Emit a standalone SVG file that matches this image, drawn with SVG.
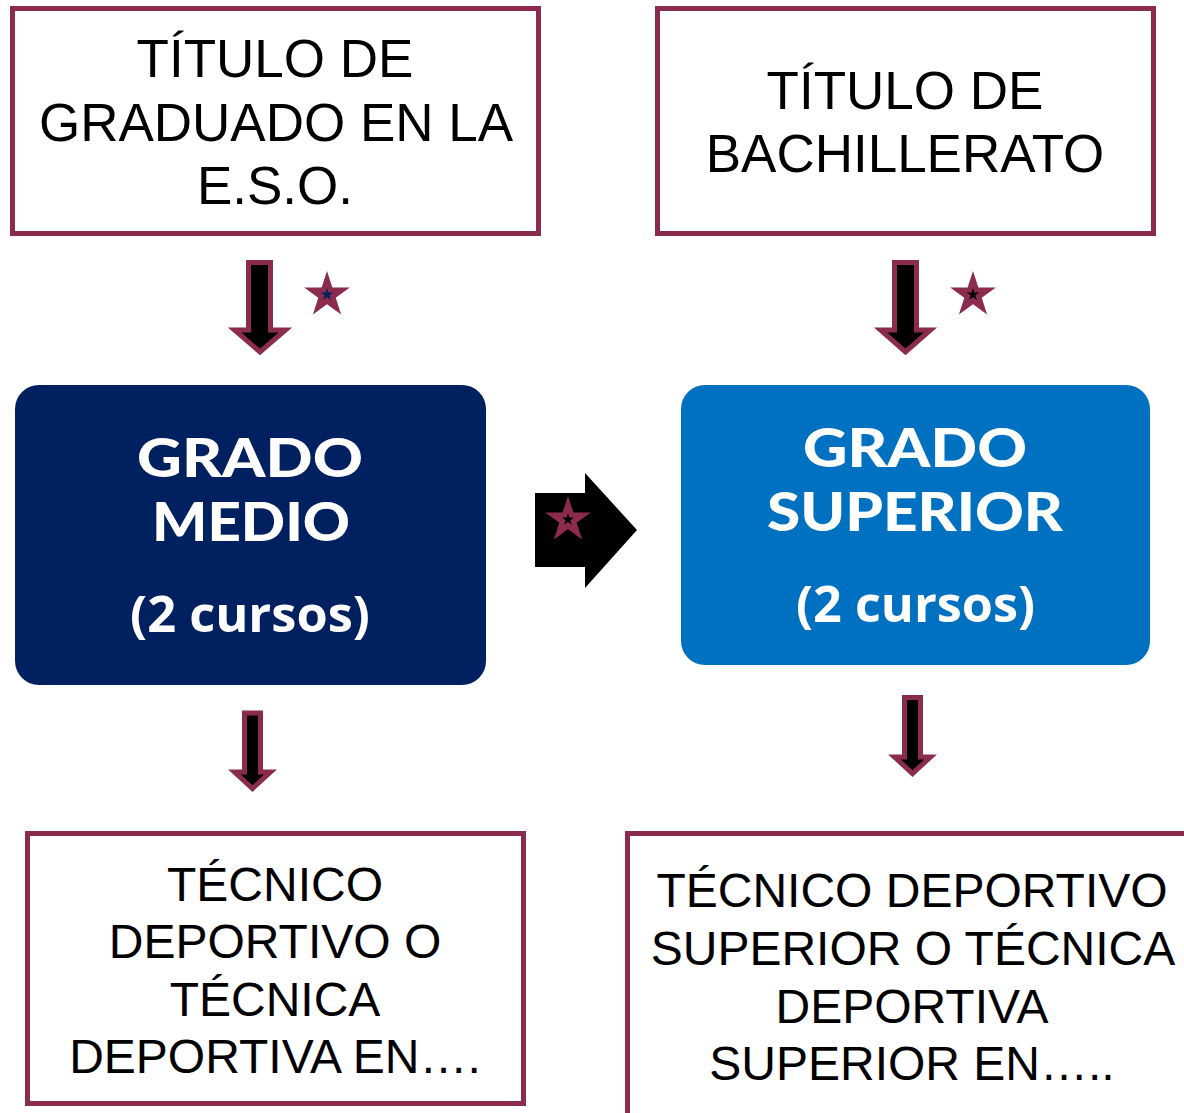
<svg xmlns="http://www.w3.org/2000/svg" xmlns:xlink="http://www.w3.org/1999/xlink" width="1184" height="1113" viewBox="0 0 1184 1113">
  <style>
    .box { fill: #ffffff; stroke: #8B2C4E; stroke-width: 5; }
    .txt { font-family: "Liberation Sans", Arial, sans-serif; fill: #000000; text-anchor: middle; }
    .big { font-family: Lato, "DejaVu Sans", sans-serif; font-weight: 900; fill: #ffffff; text-anchor: middle; font-size: 53px; }
    .sub { font-family: "Open Sans", "DejaVu Sans", sans-serif; font-weight: 700; fill: #ffffff; text-anchor: middle; font-size: 50px; }
    .darr { fill: #000000; stroke: #8B2C4E; stroke-width: 5; stroke-linejoin: miter; }
  </style>
  <defs>
    <path id="star" d="M0,-1 L0.2245,-0.309 L0.9511,-0.309 L0.3633,0.118 L0.5878,0.809 L0,0.382 L-0.5878,0.809 L-0.3633,0.118 L-0.9511,-0.309 L-0.2245,-0.309 Z"/>
  </defs>
  <rect width="1184" height="1113" fill="#ffffff"/>

  <g id="titulo-eso">
    <rect class="box" x="12.5" y="8.5" width="526" height="225"/>
    <text class="txt" font-size="53" x="275" y="77">TÍTULO DE</text>
    <text class="txt" font-size="53" x="276" y="141">GRADUADO EN LA</text>
    <text class="txt" font-size="53" x="275" y="204">E.S.O.</text>
  </g>

  <g id="titulo-bachillerato">
    <rect class="box" x="657.5" y="8.5" width="496" height="225"/>
    <text class="txt" font-size="53" x="905" y="109">TÍTULO DE</text>
    <text class="txt" font-size="53" x="905" y="172">BACHILLERATO</text>
  </g>

  <g id="grado-medio">
    <rect x="15" y="385" width="471" height="300" rx="24" ry="24" fill="#002060"/>
    <text class="big" x="250" y="477" textLength="226" lengthAdjust="spacingAndGlyphs">GRADO</text>
    <text class="big" x="251" y="541" textLength="198" lengthAdjust="spacingAndGlyphs">MEDIO</text>
    <text class="sub" x="250" y="632" textLength="240" lengthAdjust="spacingAndGlyphs">(2 cursos)</text>
  </g>

  <g id="grado-superior">
    <rect x="681" y="385" width="469" height="280" rx="24" ry="24" fill="#0070C0"/>
    <text class="big" x="915" y="467" textLength="224" lengthAdjust="spacingAndGlyphs">GRADO</text>
    <text class="big" x="915" y="531" textLength="296" lengthAdjust="spacingAndGlyphs">SUPERIOR</text>
    <text class="sub" x="915.5" y="622" textLength="239" lengthAdjust="spacingAndGlyphs">(2 cursos)</text>
  </g>

  <g id="tecnico-deportivo">
    <rect class="box" x="27.5" y="833.5" width="496" height="270"/>
    <text class="txt" font-size="48" x="275" y="901">TÉCNICO</text>
    <text class="txt" font-size="48" x="275" y="958">DEPORTIVO O</text>
    <text class="txt" font-size="48" x="275" y="1016">TÉCNICA</text>
    <text class="txt" font-size="48" x="275" y="1073">DEPORTIVA EN….</text>
  </g>

  <g id="tecnico-deportivo-superior">
    <rect class="box" x="627.5" y="833.5" width="600" height="400"/>
    <text class="txt" font-size="48" x="912" y="907">TÉCNICO DEPORTIVO</text>
    <text class="txt" font-size="48" x="913" y="965">SUPERIOR O TÉCNICA</text>
    <text class="txt" font-size="48" x="912" y="1023">DEPORTIVA</text>
    <text class="txt" font-size="48" x="912" y="1080">SUPERIOR EN…..</text>
  </g>

  <g id="connectors">
    <path class="darr" d="M248.5,262.5 H270.5 V330 H285.5 L260,352 L234.5,330 H248.5 Z"/>
    <use xlink:href="#star" href="#star" transform="translate(327,295) scale(24)" fill="#8B2C4E"/>
    <use xlink:href="#star" href="#star" transform="translate(327,294.5) scale(6.5)" fill="#002060"/>

    <path class="darr" d="M894.5,262.5 H916.5 V330 H930.5 L905.5,352 L880.5,330 H894.5 Z"/>
    <use xlink:href="#star" href="#star" transform="translate(973,295) scale(24)" fill="#8B2C4E"/>
    <use xlink:href="#star" href="#star" transform="translate(973,294.5) scale(6.5)" fill="#000000"/>

    <path d="M535,493 H585 V473 L637,530 L585,588 V567 H535 Z" fill="#000000"/>
    <use xlink:href="#star" href="#star" transform="translate(568,520) scale(24)" fill="#8B2C4E"/>
    <use xlink:href="#star" href="#star" transform="translate(568,519.5) scale(6.5)" fill="#000000"/>

    <path class="darr" d="M244.5,713 H260.5 V772 H270.5 L252.5,788.5 L234.5,772 H244.5 Z"/>
    <path class="darr" d="M904.5,697.5 H920.5 V757 H930.5 L912.5,773.5 L894.5,757 H904.5 Z"/>
  </g>
</svg>
